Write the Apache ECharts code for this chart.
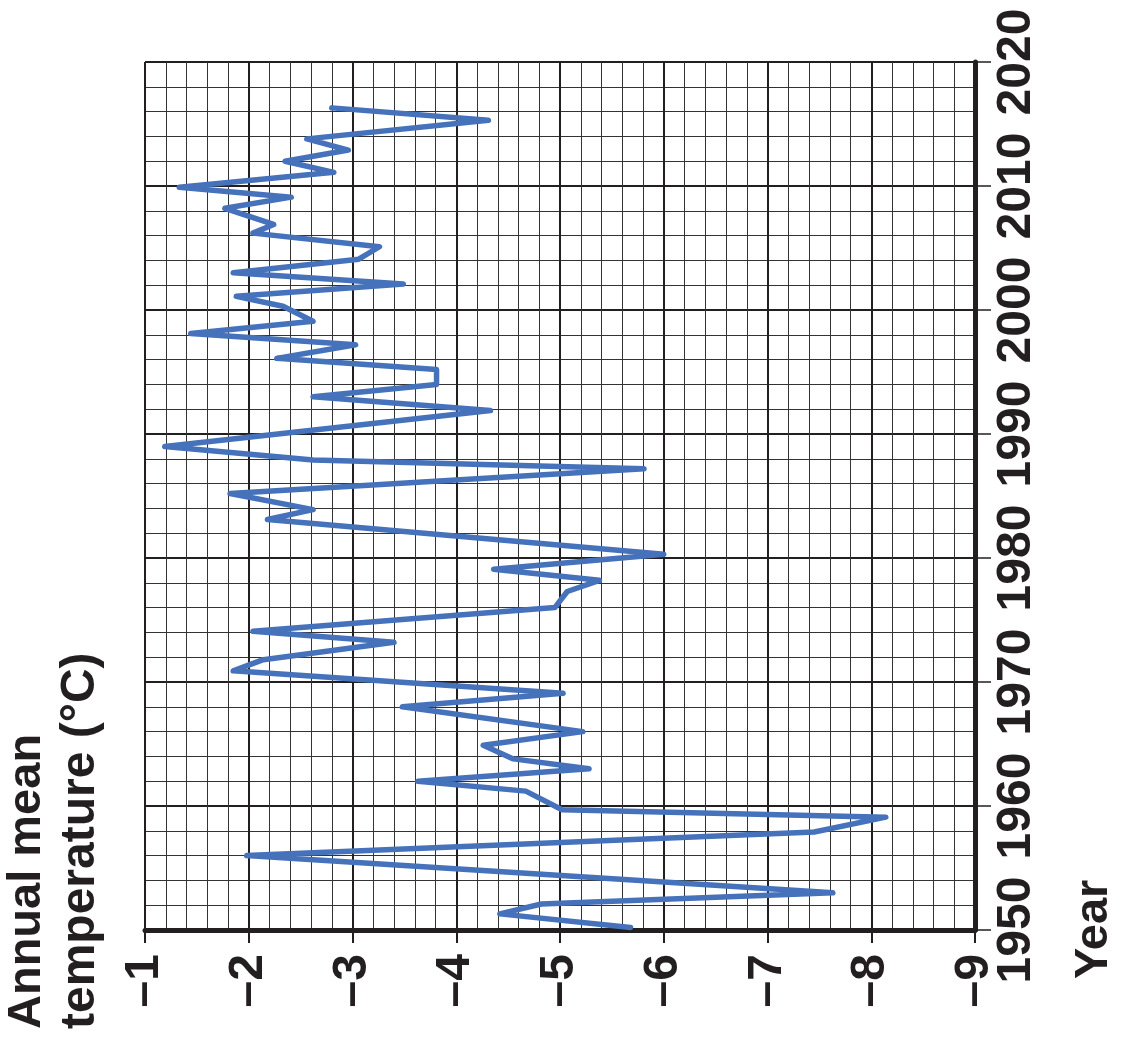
<!DOCTYPE html>
<html>
<head>
<meta charset="utf-8">
<script src="https://cdn.jsdelivr.net/npm/echarts@6/dist/echarts.min.js"></script>
<style>
html,body{margin:0;padding:0;background:#fff;}
#chart{width:1127px;height:1039px;}
</style>
</head>
<body>
<div id="chart"></div>
<script>
// Data (year, annual mean temperature in °C)
var years = [1950.2, 1951.3, 1952.1, 1953.0, 1956.0, 1957.9, 1959.1, 1959.7, 1961.2, 1962.0,
             1963.0, 1963.8, 1964.9, 1966.0, 1968.0, 1969.1, 1970.9, 1971.8, 1973.2, 1974.1,
             1976.0, 1977.3, 1978.2, 1979.1, 1980.3, 1983.1, 1983.9, 1985.2, 1987.2, 1987.9,
             1989.0, 1991.9, 1993.0, 1994.0, 1995.2, 1996.1, 1997.2, 1998.1, 1999.1, 2000.3,
             2001.1, 2002.1, 2003.0, 2004.1, 2005.1, 2006.2, 2006.9, 2008.2, 2009.1, 2009.9,
             2011.1, 2012.0, 2012.9, 2013.8, 2015.3, 2016.3];
var temps = [-5.68, -4.42, -4.82, -7.63, -1.98, -7.45, -8.14, -5.02, -4.67, -3.63,
             -5.28, -4.55, -4.26, -5.22, -3.48, -5.03, -1.85, -2.14, -3.40, -2.04,
             -4.95, -5.07, -5.38, -4.36, -6.00, -2.18, -2.62, -1.82, -5.81, -2.62,
             -1.19, -4.33, -2.62, -3.81, -3.81, -2.27, -3.03, -1.44, -2.62, -2.33,
             -1.88, -3.49, -1.85, -3.06, -3.26, -2.04, -2.24, -1.77, -2.41, -1.33,
             -2.82, -2.35, -2.96, -2.56, -4.31, -2.80];
var tempTicks = [-9, -8, -7, -6, -5, -4, -3, -2, -1];
var yearTicks = [1950, 1960, 1970, 1980, 1990, 2000, 2010, 2020];
var titleLines = ['Annual mean', 'temperature (°C)'];
var yearTitle = 'Year';

var points = years.map(function (y, i) { return [temps[i], y]; });

var FONT = "'Liberation Sans', Arial, Helvetica, sans-serif";
var INK = '#231f20';

var chart = echarts.init(document.getElementById('chart'), null, {renderer: 'canvas'});
chart.setOption({
  animation: false,
  backgroundColor: '#ffffff',
  grid: {left: 145, right: 152, top: 62, bottom: 109, containLabel: false},
  xAxis: {
    type: 'value',
    min: tempTicks[0], max: tempTicks[tempTicks.length - 1], interval: 1,
    inverse: true,
    position: 'bottom',
    axisLine: {show: true, onZero: false, lineStyle: {color: INK, width: 5}},
    axisTick: {show: true, length: 13, lineStyle: {color: INK, width: 2}},
    axisLabel: {
      rotate: 90, margin: 24,
      fontSize: 48, fontWeight: 'bold', fontFamily: FONT, color: INK,
      formatter: function (v) { return '\u2013' + Math.abs(v); }
    },
    splitLine: {show: true, lineStyle: {color: INK, width: 2}},
    minorTick: {show: false, splitNumber: 5},
    minorSplitLine: {show: true, lineStyle: {color: '#333333', width: 1}}
  },
  yAxis: {
    type: 'value',
    min: yearTicks[0], max: yearTicks[yearTicks.length - 1], interval: 10,
    position: 'right',
    axisLine: {show: true, onZero: false, lineStyle: {color: INK, width: 5}},
    axisTick: {show: true, length: 16, lineStyle: {color: INK, width: 1.5}},
    axisLabel: {
      rotate: 90, margin: 18,
      fontSize: 48, fontWeight: 'bold', fontFamily: FONT, color: INK,
      formatter: function (v) { return String(v); }
    },
    splitLine: {show: true, lineStyle: {color: INK, width: 2}},
    minorTick: {show: false, splitNumber: 5},
    minorSplitLine: {show: true, lineStyle: {color: '#333333', width: 1}}
  },
  graphic: [
    {type: 'text', x: 27, y: 1029, rotation: Math.PI / 2,
     style: {text: titleLines[0], fontSize: 47, fontWeight: 'bold', fontFamily: FONT,
             fill: INK, align: 'left', verticalAlign: 'middle'}},
    {type: 'text', x: 81, y: 1029, rotation: Math.PI / 2,
     style: {text: titleLines[1], fontSize: 48, fontWeight: 'bold', fontFamily: FONT,
             fill: INK, align: 'left', verticalAlign: 'middle'}},
    {type: 'text', x: 1094, y: 979, rotation: Math.PI / 2,
     style: {text: yearTitle, fontSize: 47, fontWeight: 'bold', fontFamily: FONT,
             fill: INK, align: 'left', verticalAlign: 'middle'}}
  ],
  series: [{
    type: 'line',
    data: points,
    showSymbol: false,
    symbol: 'none',
    lineStyle: {color: '#4672bc', width: 5.5, join: 'round', cap: 'round'},
    z: 5
  }]
});
</script>
</body>
</html>
